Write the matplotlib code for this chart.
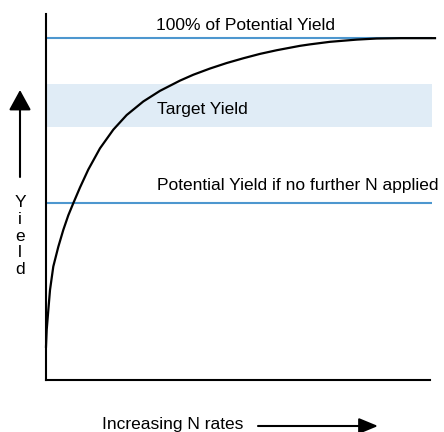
import matplotlib.pyplot as plt

# yield response curve (N rate 0-100, yield 0-100)
n_rate = [0, 0.18, 0.6, 1.04, 1.89, 3.19, 4.48, 5.78, 7.07, 8.81, 10.96,
          13.99, 17.44, 20.91, 25.21, 29.53, 34.72, 38.16, 42.49, 46.81,
          51.11, 55.44, 59.77, 65.8, 68.39, 73.58, 80.49, 85.67, 92.0, 100.8]
yield_pct = [9.1, 13.7, 19.1, 24.6, 31.0, 36.4, 41.0, 45.0, 48.3, 52.6, 57.5,
             63.3, 68.4, 72.4, 76.1, 79.0, 81.8, 83.4, 85.1, 86.6,
             87.9, 89.1, 90.1, 91.3, 91.7, 92.4, 93.0, 93.3, 93.4, 93.4]

potential_yield = 93.4
no_more_n_yield = 48.4
target_band = (69.1, 80.9)

labels = ["100% of Potential Yield", "Target Yield",
          "Potential Yield if no further N applied"]
x_label = "Increasing N rates"
y_label = "Yield"

plt.rcParams['font.family'] = ['Liberation Sans', 'DejaVu Sans']

W, H = 444, 432
fig = plt.figure(figsize=(W / 100, H / 100), dpi=100)
# axes box in pixels: x 46..435, y 14..380
ax = fig.add_axes([46 / W, 1 - 380 / H, (435 - 46) / W, (380 - 14) / H])
ax.set_xlim(0, 100.8)
ax.set_ylim(0, 100)
for s in ['top', 'right']:
    ax.spines[s].set_visible(False)
for s in ['left', 'bottom']:
    ax.spines[s].set_linewidth(1.5)
ax.spines['bottom'].set_bounds(0, 99.5)
ax.set_xticks([])
ax.set_yticks([])

blue = '#4d97cf'
ax.axhspan(target_band[0], target_band[1], xmin=0, xmax=100 / 100.8,
           color='#e0ecf6', lw=0)
ax.hlines([potential_yield, no_more_n_yield], 0, 100, color=blue, lw=1.5)
ax.plot(n_rate, yield_pct, color='black', lw=1.6, clip_on=False,
        solid_joinstyle='round')

fs = 12.5
ax.text(51.8, 95.6, labels[0], ha='center', va='baseline', fontsize=fs)
ax.text(28.8, 72.8, labels[1], ha='left', va='baseline', fontsize=fs)
ax.text(28.8, 51.9, labels[2], ha='left', va='baseline', fontsize=fs)

# axis captions and arrows, placed in figure pixels
fig.text(102 / W, 3 / H, x_label, ha='left', va='baseline', fontsize=fs)
ax.annotate('', xy=(378, H - 426), xytext=(258, H - 426),
            xycoords='figure pixels', textcoords='figure pixels',
            arrowprops=dict(arrowstyle='-|>,head_length=0.58,head_width=0.24',
                            mutation_scale=20, color='black', lw=1.5,
                            shrinkA=0, shrinkB=0))
ax.annotate('', xy=(20, H - 90), xytext=(20, H - 177),
            xycoords='figure pixels', textcoords='figure pixels',
            arrowprops=dict(arrowstyle='-|>,head_length=0.62,head_width=0.34',
                            mutation_scale=20, color='black', lw=1.5,
                            shrinkA=0, shrinkB=0))
fig.text(20 / W, 1 - 195 / H, "\n".join(y_label), ha='center', va='top',
         fontsize=fs, linespacing=1.15)

fig.savefig('out.png', dpi=100)
